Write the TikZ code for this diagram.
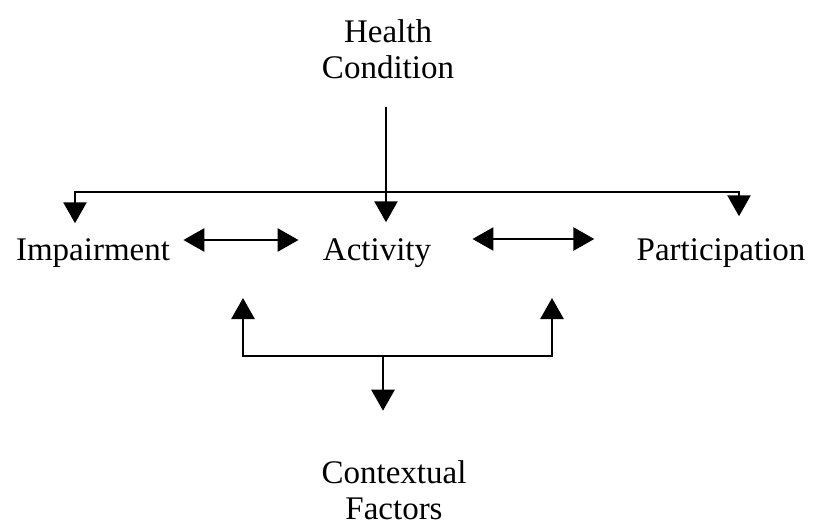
\documentclass[tikz,border=0pt]{standalone}
\usepackage{fontspec}
\setmainfont{Liberation Serif}
\usepackage{tikz}
\usetikzlibrary{arrows.meta}

\begin{document}
\begin{tikzpicture}[x=1pt,y=-1pt,>={Triangle[width=23pt,length=21pt]},
                    line width=2.8pt]
\tikzstyle{term}=[inner sep=0pt,anchor=base,align=center]
\tikzset{font=\fontsize{33pt}{36pt}\selectfont}
\useasboundingbox (0,0) rectangle (813,527);

        \node[term]     (HC)    at (388,78)     {Health\\Condition};
        \node[term]     (Imp)   at (93,260)     {Impairment};
        \node[term]     (Act)   at (377,260)    {Activity};
        \node[term]     (Par)   at (721,260)    {Participation};
        \node[term]     (CF)    at (394,519)    {Contextual\\Factors};

        \coordinate (top)   at (386,192);
        \coordinate (topL)  at (75,192);
        \coordinate (topR)  at (739,192);
        \coordinate (midL)  at (243,240);
        \coordinate (midR)  at (532,239);
        \coordinate (upL)   at (243,298);
        \coordinate (upR)   at (552,298);
        \coordinate (bot)   at (383,356);

        \draw[->,shorten <=27pt,shorten >=14.5pt] (HC.south -| top) -- (Act.north -| top);
        \draw[<->,shorten <=13.5pt,shorten >=20.5pt]
            (Imp.north -| topL) |- (top) -| (Par.north -| topR);

        \draw[<->,shorten <=12pt,shorten >=23pt] (Imp.east |- midL) -- (Act.west |- midL);
        \draw[<->,shorten <=40pt,shorten >=41pt] (Act.east |- midR) -- (Par.west |- midR);

        \draw[<->] (upL) |- (bot) -| (upR);
        \draw[->,shorten >=48pt] (bot) -- (CF.north -| bot);

\end{tikzpicture}
\end{document}
